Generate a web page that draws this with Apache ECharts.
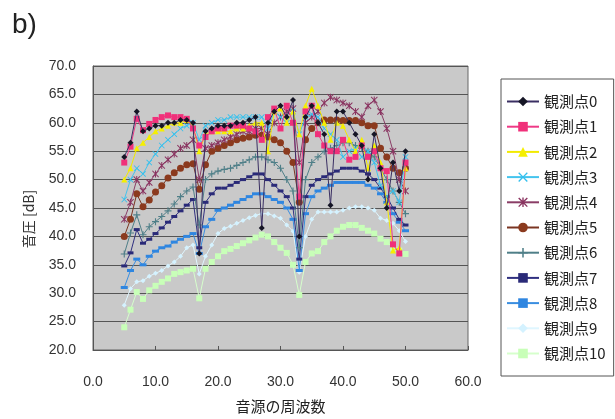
<!DOCTYPE html>
<html><head><meta charset="utf-8">
<script src="https://cdn.jsdelivr.net/npm/echarts@6/dist/echarts.min.js"></script>
<style>html,body{margin:0;padding:0;background:#fff;}#c{width:615px;height:419px;}</style>
</head><body><div id="c"></div>
<script>
// frequencies (x) 5..50
var freqs = [5,6,7,8,9,10,11,12,13,14,15,16,17,18,19,20,21,22,23,24,25,26,27,28,29,30,31,32,33,34,35,36,37,38,39,40,41,42,43,44,45,46,47,48,49,50];
var seriesNames = ['観測点0','観測点1','観測点2','観測点3','観測点4','観測点5','観測点6','観測点7','観測点8','観測点9','観測点10'];
var xTicks = [0,10,20,30,40,50,60];
var yTicks = [20,25,30,35,40,45,50,55,60,65,70];

var p0 = [54,56.5,62,58.5,59,59.5,59.5,60,60,60.5,60.5,60,37,58.5,59,59.5,59.5,59.5,60,60,60.5,61,41.5,60,62,63,61,64,40,61,63,60,58,45.5,62,62,60,58,56,50,58,52,45,53,48,55];
var p1 = [53,55.8,60.7,58.7,59.8,60.5,61,61.3,61,61,60.7,59,56,57.5,58.5,59,59,59.5,59.5,59.5,59,58.5,57,61,62.5,59,63,60,47,62,63,58,56,55,55,57,53.5,54,56,54,55,52,51.5,38.6,37,53];
var p2 = [50,52,55.5,56.5,57.5,58.5,59,59.5,60,60,60.5,59.5,55,58,58.5,58.5,58.5,58.5,59,59,59.5,60,60,55,62,62.5,60,62,58,63,66,63,60,57,60,59.5,57,55,57,52,56,53,46,37.5,38,52];
var p3 = [46.5,50,52,51,53,54.5,56,57,58,59,59.5,60,57,59.5,60,60.5,60.5,61,61,61,61,61,61,59,62,61,60,62,58,61,61.5,61,59,58,57,54,55,55.5,54,55,53,49,47,48,46,54];
var p4 = [43,46,50,48,49.5,51,52.5,53.5,54.5,55.5,56,57,50,55.5,56,56.5,57,57.5,58,58.5,58.5,59,59,58,60,61,62,62.5,53,60,61,62,63.5,64.5,64,63.5,63,62,61,63,64,62,59,55,50,48];
var p5 = [40,43,47.5,45.2,46.4,47.8,48.9,50.3,51.2,52,52.6,52.8,48.3,52.6,55,55.5,56,56.5,57,57.3,57.5,57.8,57.8,57.5,57,56.5,55,53,46,57,59,60,60.5,60.5,60.5,60.4,60.4,60.4,60,59.5,59.5,55.5,54,52,51.2,52];
var p6 = [36.9,40.6,43.8,40.3,41.7,42.6,43.5,44.5,45.7,47,48,48.7,42,50,51,51.5,51.8,52,52.5,53,53.5,54,54,53.5,53,52,50,48,38,50,53,54,55,55.5,56,56.5,56.5,56,55.5,55,54,52,50,48,46,44];
var p7 = [34.8,37.1,41.2,38.8,39.5,40.5,41.5,42.5,43.5,44.5,45.5,46.5,38,46,47.5,48.5,48.5,49,49.5,50,50.5,51,51,50,49,48,47,45,36,47,49,50,50.5,51,51.5,52,52,52,51.5,51,50,48.5,47,45,43,42];
var p8 = [31,34,36,35,36.5,37.4,38,38.3,39,39.5,40,40.5,37,41.7,43,44.6,45,45.5,46,46.5,47,47.5,47.5,47,46.5,46,45,43,34,44,47,48,48.5,49,49.5,49.5,49.5,49.5,49.5,49,48.5,47.5,46,44,42.5,41];
var p9 = [27.9,30.8,32,32.2,33,33.5,34,34.8,35.5,36.5,38,38.5,33.4,36.5,38.5,40.5,41.4,41.8,42.3,42.8,43.3,43.7,44,44,43.6,43.2,42,40.9,33.7,40,43,44.3,44.3,44.3,44.3,44.6,45,45.2,45.2,45,44.6,43.2,42.8,42.3,41,39.1];
var p10 = [24,27.1,30.2,29,30.5,31.3,32,32.6,33.4,33.7,34,34.3,29.1,34.3,35.5,36.5,37.4,37.8,38.3,38.8,39.3,39.8,40.3,40,39,38,37.1,35,29.7,35.5,37,37.4,39,40,41,41.7,42,42,41.5,41,40.5,39.6,39,38,37.5,36.9];

var values = [p0,p1,p2,p3,p4,p5,p6,p7,p8,p9,p10];

var X_PATH = 'path://M1,0L5,4L9,0L10,1L6,5L10,9L9,10L5,6L1,10L0,9L4,5L0,1Z';
var STAR_PATH = 'path://M1,0L5,4L9,0L10,1L6,5L10,9L9,10L5,6L1,10L0,9L4,5L0,1ZM4.3,0H5.7V10H4.3Z';
var PLUS_PATH = 'path://M4.2,0H5.8V4.2H10V5.8H5.8V10H4.2V5.8H0V4.2H4.2Z';

var styles = [
  {line:'#3a2f63', fill:'#151525', sym:'diamond', size:6},
  {line:'#ee3a86', fill:'#f0307a', sym:'rect', size:6},
  {line:'#f2ea00', fill:'#f5ef00', sym:'triangle', size:6},
  {line:'#44c4ee', fill:'#33c0ee', sym:X_PATH, size:6},
  {line:'#8a3d66', fill:'#8a3360', sym:STAR_PATH, size:7},
  {line:'#7a3522', fill:'#8b3a1e', sym:'circle', size:7},
  {line:'#4f7f88', fill:'#4f7f88', sym:PLUS_PATH, size:7},
  {line:'#303080', fill:'#2a2a78', sym:'rect', size:[6,3]},
  {line:'#3a8ee0', fill:'#2f86e0', sym:'rect', size:[7,3]},
  {line:'#dff6ff', fill:'#d4f2ff', sym:'diamond', size:5},
  {line:'#d6ffcc', fill:'#c8ffb8', sym:'rect', size:6}
];

var series = seriesNames.map(function(n,i){
  var st = styles[i];
  return {
    name:n, type:'line',
    data: freqs.map(function(f,j){return [f, values[i][j]];}),
    symbol: st.sym, symbolSize: st.size, showSymbol:true,
    lineStyle:{color:st.line, width:1},
    itemStyle:{color:st.fill},
    animation:false, z: 20 - i
  };
});

var chart = echarts.init(document.getElementById('c'), null, {renderer:'canvas'});
chart.setOption({
  backgroundColor:'#fff',
  animation:false,
  graphic:[{type:'text', left:12, top:11, style:{text:'b)', fontSize:28, fill:'#222', fontFamily:'Liberation Sans, Arial, sans-serif'}}],
  grid:{left:93, right:147, top:66, bottom:63, show:true, backgroundColor:'#c9c9c9', borderColor:'#666', borderWidth:1},
  xAxis:{type:'value', min:0, max:60, interval:10,
    name:'音源の周波数', nameLocation:'middle', nameGap:49,
    nameTextStyle:{fontSize:15, color:'#222', fontFamily:'Noto Sans CJK JP'},
    axisLine:{show:true, lineStyle:{color:'#555'}},
    axisTick:{show:true, inside:true, length:4, lineStyle:{color:'#555'}},
    axisLabel:{fontSize:14, color:'#333', margin:25, fontFamily:'Liberation Sans, Arial, sans-serif', formatter:function(v){return v.toFixed(1);}},
    splitLine:{show:false}},
  yAxis:{type:'value', min:20, max:70, interval:5,
    name:'音圧 [dB]', nameLocation:'middle', nameGap:57, nameRotate:90,
    nameTextStyle:{fontSize:14, color:'#333', fontFamily:'Noto Sans CJK JP', padding:[0,22,0,0]},
    axisLine:{show:true, lineStyle:{color:'#555'}},
    axisTick:{show:false},
    axisLabel:{fontSize:14, color:'#333', margin:17, padding:[8,0,0,0], fontFamily:'Liberation Sans, Arial, sans-serif', formatter:function(v){return v.toFixed(1);}},
    splitLine:{show:true, lineStyle:{color:'#555', width:1}}},
  legend:{orient:'vertical', left:501, top:79, itemWidth:32, itemHeight:12, itemGap:10.2,
    padding:[15,8,15,5], borderColor:'#555', borderWidth:1, backgroundColor:'#fff',
    textStyle:{fontSize:15, color:'#222', fontFamily:'Noto Sans CJK JP'},
    data:seriesNames},
  series: series
});
</script></body></html>
